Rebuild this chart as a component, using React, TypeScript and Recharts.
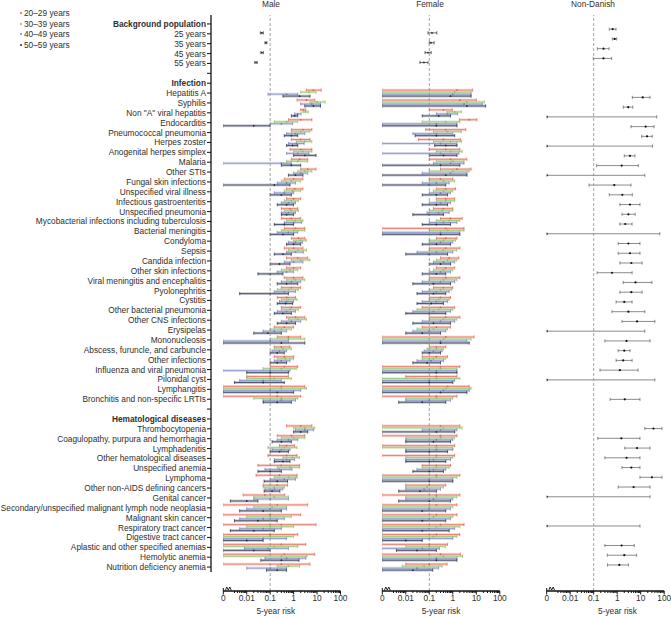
import React from 'react';
import { ComposedChart, Bar, XAxis, YAxis, ReferenceLine, Legend } from 'recharts';

const FONT = '"Liberation Sans", Arial, Helvetica, sans-serif';
const TEXT = '#2e2e2e';
const AXIS = '#111';

// ---------- categories ----------
const panelTitles = ['Male', 'Female', 'Non-Danish'];
const sectionTitles = ['Background population', 'Infection', 'Hematological diseases'];
const ageGroups = ['20–29 years', '30–39 years', '40–49 years', '50–59 years'];
const ageColors = ['#e8604c', '#86c25c', '#7383bd', '#1f2b48'];
const backgroundLabels = ['25 years', '35 years', '45 years', '55 years'];
const infectionLabels = [
  'Hepatitis A', 'Syphilis', 'Non "A" viral hepatitis', 'Endocarditis', 'Pneumococcal pneumonia',
  'Herpes zoster', 'Anogenital herpes simplex', 'Malaria', 'Other STIs', 'Fungal skin infections',
  'Unspecified viral illness', 'Infectious gastroenteritis', 'Unspecified pneumonia',
  'Mycobacterial infections including tuberculosis', 'Bacterial meningitis', 'Condyloma', 'Sepsis',
  'Candida infection', 'Other skin infections', 'Viral meningitis and encephalitis', 'Pyolonephritis',
  'Cystitis', 'Other bacterial pneumonia', 'Other CNS infections', 'Erysipelas', 'Mononucleosis',
  'Abscess, furuncle, and carbuncle', 'Other infections', 'Influenza and viral pneumonia',
  'Pilonidal cyst', 'Lymphangitis', 'Bronchitis and non-specific LRTIs',
];
const hematologicalLabels = [
  'Thrombocytopenia', 'Coagulopathy, purpura and hemorrhagia', 'Lymphadenitis',
  'Other hematological diseases', 'Unspecified anemia', 'Lymphoma', 'Other non-AIDS defining cancers',
  'Genital cancer', 'Secondary/unspecified malignant lymph node neoplasia', 'Malignant skin cancer',
  'Respiratory tract cancer', 'Digestive tract cancer', 'Aplastic and other specified anemias',
  'Hemolytic anemia', 'Nutrition deficiency anemia',
];

// ---------- x axis ticks ----------
const majorTicks = [0.001, 0.01, 0.1, 1, 10, 100];
const majorTickLabels = ['0', '0.01', '0.1', '1', '10', '100'];
const minorTicks = [
  0.003, 0.004, 0.005, 0.006, 0.007, 0.008, 0.009,
  0.02, 0.03, 0.04, 0.05, 0.06, 0.07, 0.08, 0.09,
  0.2, 0.3, 0.4, 0.5, 0.6, 0.7, 0.8, 0.9,
  2, 3, 4, 5, 6, 7, 8, 9,
  20, 30, 40, 50, 60, 70, 80, 90,
];
const xTicks = [...majorTicks, ...minorTicks];

// ---------- values: [lower CI, estimate, upper CI] (0.001 = "0") ----------
const maleBackground = [[0.038, 0.044, 0.051], [0.06, 0.066, 0.072], [0.04, 0.044, 0.051], [0.022, 0.025, 0.028]];
const femaleBackground = [[0.088, 0.13, 0.21], [0.1, 0.118, 0.16], [0.066, 0.088, 0.12], [0.04, 0.059, 0.088]];
const nonDanishBackground = [[0.46, 0.64, 0.89], [0.62, 0.78, 0.95], [0.142, 0.26, 0.45], [0.096, 0.26, 0.58]];

const male20 = [
  [3.5, 7, 15], [1.4, 3.5, 8], [2, 2.6, 3.3], [0.6, 2, 6], [0.8, 2.5, 6], [0.8, 2, 5], [0.7, 2, 6], [0.8, 1.8, 4],
  [2, 4, 9], [0.4, 1, 2.5], [0.5, 1.1, 2.5], [0.5, 1, 2], [0.3, 0.7, 1.5], [0.3, 0.8, 2], [0.4, 1.2, 3], [0.8, 1.6, 3],
  [0.4, 1, 2.5], [0.5, 1.5, 4], [0.5, 1, 2], [0.4, 1, 2.5], [0.3, 0.8, 2], [0.2, 0.5, 1.2], [0.3, 0.8, 2], [0.5, 1.2, 3],
  [0.15, 0.4, 1], [0.2, 0.6, 2], [0.15, 0.3, 0.7], [0.15, 0.4, 1], [0.1, 0.4, 1.5], [0.01, 0.1, 0.6], [0.001, 0.3, 3], [0.001, 0.2, 2],
  [0.5, 2, 6], [0.2, 0.8, 3], [0.25, 0.5, 1.1], [0.08, 0.5, 1.4], [0.03, 0.3, 1.8], [0.025, 0.25, 1.4], [0.05, 0.2, 0.55],
  [0.007, 0.06, 0.42], [0.001, 0.2, 4], [0.001, 0.1, 2], [0.001, 0.3, 9], [0.001, 0.1, 1.5], [0.001, 0.3, 3.3], [0.001, 0.4, 8], [0.001, 0.3, 5],
];
const male30 = [
  [2, 4.5, 9], [5, 10, 22], [2.5, 3.2, 4.2], [0.15, 0.5, 1.5], [0.8, 2, 5], [1.3, 3, 6], [1, 2.5, 6], [0.5, 1.5, 4],
  [1.5, 3, 6], [0.3, 0.8, 2], [0.4, 0.9, 2], [0.4, 0.8, 1.6], [0.4, 0.8, 1.6], [0.5, 1.2, 2.5], [0.3, 1, 3], [1, 2, 3.5],
  [0.6, 1.5, 3.5], [0.8, 2, 5], [0.3, 0.7, 1.5], [0.5, 1.2, 3], [0.2, 0.6, 1.6], [0.3, 0.6, 1.4], [0.3, 0.7, 1.6], [0.6, 1.5, 3.5],
  [0.1, 0.3, 0.8], [0.1, 0.6, 3], [0.15, 0.35, 0.8], [0.2, 0.45, 1], [0.05, 0.3, 1.3], [0.01, 0.15, 0.8], [0.001, 0.3, 3.5], [0.02, 0.3, 1.5],
  [1, 3, 8], [0.3, 1, 3], [0.08, 0.4, 1.4], [0.35, 0.9, 1.8], [0.2, 0.7, 1.8], [0.15, 0.6, 1.4], [0.05, 0.15, 0.4],
  [0.02, 0.15, 0.6], [0.02, 0.12, 0.5], [0.01, 0.1, 0.8], [0.01, 0.1, 1], [0.001, 0.1, 1], [0.001, 0.15, 1.5], [0.001, 0.3, 3.7], [0.2, 0.6, 1.8],
];
const male40 = [
  [0.08, 0.5, 1.5], [2, 6, 14], [1.1, 1.5, 2.1], [0.1, 0.3, 0.9], [0.5, 1.2, 3], [0.6, 1.3, 2.8], [0.5, 1.5, 4.5], [0.001, 0.3, 0.8],
  [1, 2, 4], [0.2, 0.5, 1.2], [0.15, 0.4, 1], [0.3, 0.6, 1.2], [0.3, 0.6, 1.2], [0.4, 1, 2.2], [0.2, 0.6, 1.5], [0.6, 1.2, 2.4],
  [0.5, 1.2, 2.6], [0.4, 1, 2.5], [0.2, 0.5, 1], [0.3, 0.8, 2], [0.15, 0.4, 1.2], [0.25, 0.5, 1], [0.2, 0.5, 1.2], [0.3, 0.8, 2],
  [0.05, 0.15, 0.5], [0.001, 0.1, 0.6], [0.12, 0.25, 0.5], [0.15, 0.3, 0.7], [0.001, 0.1, 0.7], [0.005, 0.05, 0.3], [0.001, 0.1, 2], [0.05, 0.3, 1.2],
  [1.2, 3, 7], [0.2, 0.6, 1.5], [0.12, 0.3, 0.7], [0.15, 0.5, 1.1], [0.06, 0.25, 0.85], [0.1, 0.4, 1.2], [0.06, 0.15, 0.35],
  [0.02, 0.1, 0.6], [0.01, 0.1, 0.5], [0.005, 0.05, 0.4], [0.005, 0.05, 0.3], [0.001, 0.05, 0.5], [0.008, 0.08, 0.6], [0.06, 0.5, 3.3], [0.01, 0.1, 0.5],
];
const male50 = [
  [0.35, 1.8, 5], [3, 7, 14], [0.8, 1.1, 1.5], [0.001, 0.02, 0.1], [0.4, 0.8, 1.5], [0.5, 0.9, 1.5], [1, 3, 9], [0.3, 0.8, 2],
  [0.6, 1.2, 2.5], [0.001, 0.15, 0.7], [0.1, 0.3, 0.8], [0.2, 0.5, 1], [0.3, 0.5, 1], [0.15, 0.4, 1], [0.1, 0.35, 1], [0.5, 1, 2],
  [0.15, 0.35, 0.8], [0.1, 0.25, 0.7], [0.03, 0.1, 0.35], [0.2, 0.5, 1.5], [0.005, 0.1, 0.6], [0.2, 0.45, 0.9], [0.15, 0.35, 0.8], [0.2, 0.5, 1.2],
  [0.02, 0.08, 0.3], [0.001, 0.3, 3], [0.1, 0.2, 0.4], [0.1, 0.2, 0.5], [0.01, 0.1, 0.6], [0.003, 0.05, 0.4], [0.001, 0.2, 1], [0.05, 0.2, 0.8],
  [1, 2, 4], [0.12, 0.3, 0.8], [0.1, 0.25, 0.6], [0.15, 0.35, 0.7], [0.03, 0.1, 0.3], [0.055, 0.2, 0.55], [0.055, 0.12, 0.26],
  [0.002, 0.01, 0.03], [0.005, 0.05, 0.3], [0.003, 0.03, 0.2], [0.002, 0.02, 0.15], [0.001, 0.01, 0.05], [0.001, 0.02, 0.1], [0.04, 0.3, 1.7], [0.07, 0.2, 0.5],
];

const female20 = [
  [0.001, 1.5, 7], [0.001, 2, 10], [0.1, 0.4, 0.95], [1.9, 5, 10.6], [0.07, 0.5, 3.6], [0.035, 0.4, 2.1], [0.1, 0.5, 2], [0.1, 0.8, 4],
  [0.3, 1.5, 6], [0.1, 0.3, 1], [0.2, 0.5, 1.3], [0.2, 0.5, 1.2], [0.15, 0.4, 1], [0.3, 0.8, 2.5], [0.001, 0.5, 3], [0.2, 0.5, 1.5],
  [0.1, 0.5, 2], [0.3, 0.7, 1.8], [0.2, 0.5, 1.2], [0.1, 0.5, 2], [0.15, 0.4, 1], [0.1, 0.3, 0.8], [0.05, 0.3, 1.2], [0.1, 0.5, 2],
  [0.05, 0.2, 0.8], [0.001, 0.5, 8], [0.1, 0.2, 0.5], [0.05, 0.2, 0.6], [0.001, 0.3, 2], [0.01, 0.2, 1.5], [0.001, 0.6, 5], [0.001, 0.2, 1.5],
  [0.001, 0.3, 2], [0.001, 0.3, 1.5], [0.001, 0.2, 1.2], [0.001, 0.2, 1.2], [0.05, 0.2, 0.8], [0.001, 0.2, 2], [0.01, 0.1, 0.5],
  [0.001, 0.2, 2], [0.001, 0.2, 1.5], [0.001, 0.2, 1.5], [0.001, 0.3, 3], [0.001, 0.2, 2], [0.001, 0.1, 0.6], [0.001, 0.3, 2.1], [0.01, 0.1, 0.57],
];
const female30 = [
  [0.001, 1.2, 6], [0.001, 4, 22], [0.56, 1.2, 2.3], [0.05, 0.5, 2], [0.15, 0.6, 2.3], [0.15, 0.8, 2.4], [0.2, 0.8, 2.5], [0.2, 1, 3],
  [0.1, 1, 5], [0.1, 0.4, 1.2], [0.15, 0.4, 1], [0.2, 0.5, 1.2], [0.1, 0.35, 1], [0.2, 0.7, 2], [0.1, 0.6, 3], [0.1, 0.4, 1.3],
  [0.1, 0.4, 1.5], [0.2, 0.6, 1.5], [0.15, 0.4, 1], [0.1, 0.4, 1.5], [0.1, 0.3, 0.9], [0.1, 0.25, 0.7], [0.03, 0.25, 1], [0.1, 0.4, 1.5],
  [0.03, 0.15, 0.6], [0.001, 0.4, 6], [0.08, 0.2, 0.4], [0.05, 0.15, 0.5], [0.001, 0.3, 1.5], [0.001, 0.2, 2], [0.001, 0.5, 6], [0.01, 0.2, 1],
  [0.001, 0.4, 2.5], [0.01, 0.3, 1.2], [0.001, 0.2, 1], [0.01, 0.2, 1], [0.05, 0.2, 0.7], [0.001, 0.2, 1.5], [0.01, 0.08, 0.4],
  [0.01, 0.2, 1.5], [0.001, 0.1, 1], [0.001, 0.15, 1], [0.001, 0.2, 2], [0.001, 0.15, 1.5], [0.01, 0.1, 0.5], [0.001, 0.4, 2.6], [0.007, 0.06, 0.35],
];
const female40 = [
  [0.001, 1, 6], [0.001, 3, 18], [0.2, 0.6, 1.6], [0.001, 0.2, 1.5], [0.02, 0.2, 1], [0.001, 0.3, 1.5], [0.001, 0.3, 1.8], [0.15, 0.8, 3],
  [0.05, 0.8, 4], [0.05, 0.2, 0.7], [0.1, 0.3, 0.8], [0.1, 0.3, 0.8], [0.08, 0.25, 0.7], [0.1, 0.4, 1.5], [0.001, 0.3, 2], [0.1, 0.3, 1],
  [0.03, 0.2, 1], [0.15, 0.4, 1.2], [0.1, 0.3, 0.8], [0.05, 0.3, 1.2], [0.05, 0.2, 0.7], [0.05, 0.2, 0.6], [0.02, 0.15, 0.8], [0.05, 0.3, 1.2],
  [0.02, 0.1, 0.5], [0.001, 0.3, 4], [0.06, 0.15, 0.35], [0.03, 0.12, 0.4], [0.001, 0.2, 1.5], [0.001, 0.1, 1.2], [0.001, 0.4, 5], [0.01, 0.1, 0.8],
  [0.05, 0.3, 1.5], [0.01, 0.2, 1], [0.01, 0.2, 1], [0.01, 0.15, 0.8], [0.03, 0.15, 0.5], [0.001, 0.1, 1], [0.01, 0.06, 0.3],
  [0.01, 0.15, 1], [0.001, 0.1, 0.8], [0.001, 0.1, 0.8], [0.001, 0.1, 1.2], [0.001, 0.1, 1], [0.001, 0.05, 0.27], [0.001, 0.2, 1.5], [0.001, 0.03, 0.25],
];
const female50 = [
  [0.001, 0.8, 6], [0.001, 4, 25], [0.05, 0.25, 0.8], [0.001, 0.2, 1.5], [0.025, 0.2, 1.2], [0.17, 0.5, 1.5], [0.1, 0.4, 1.5], [0.001, 0.3, 2],
  [0.001, 0.5, 4], [0.001, 0.1, 0.5], [0.05, 0.2, 0.6], [0.05, 0.2, 0.6], [0.02, 0.1, 0.4], [0.05, 0.2, 0.8], [0.001, 0.3, 2], [0.05, 0.2, 0.8],
  [0.01, 0.1, 0.6], [0.1, 0.3, 0.8], [0.05, 0.2, 0.5], [0.02, 0.15, 0.8], [0.03, 0.15, 0.5], [0.03, 0.12, 0.4], [0.01, 0.1, 0.5], [0.02, 0.15, 0.8],
  [0.01, 0.05, 0.3], [0.001, 0.3, 5], [0.05, 0.1, 0.3], [0.02, 0.08, 0.3], [0.001, 0.2, 1.5], [0.001, 0.1, 1], [0.001, 0.3, 4], [0.005, 0.05, 0.5],
  [0.001, 0.2, 1.2], [0.01, 0.15, 0.8], [0.01, 0.1, 0.6], [0.01, 0.1, 0.5], [0.02, 0.1, 0.4], [0.001, 0.1, 1], [0.005, 0.04, 0.2],
  [0.005, 0.1, 0.8], [0.001, 0.05, 0.5], [0.001, 0.05, 0.5], [0.001, 0.05, 0.7], [0.001, 0.01, 0.05], [0.004, 0.03, 0.2], [0.001, 0.2, 1.5], [0.001, 0.02, 0.14],
];

const nonDanish = [
  [4.4, 12.2, 24.9], [1.82, 2.97, 4.6], [0.001, 0.001, 48], [3.87, 16.3, 37], [11, 18.6, 31], [0.001, 0.001, 32], [2, 3.5, 5.7], [0.134, 1.56, 7.9],
  [0.001, 0.001, 15], [0.063, 0.75, 3.87], [0.46, 1.65, 4.4], [1.3, 3.5, 9.3], [1.6, 3, 5.8], [1.3, 2.2, 4.3], [0.001, 0.001, 65], [1.1, 3, 9.3],
  [1.1, 3.5, 9.3], [1.3, 4, 11.5], [0.14, 0.6, 4.3], [1.8, 6, 30], [1.3, 4, 11.5], [0.9, 2, 4.3], [0.6, 3, 15], [1.6, 7, 40],
  [0.001, 0.001, 15], [0.3, 2.5, 25], [1.1, 2, 3.5], [0.9, 1.8, 4.3], [0.185, 1.3, 7.7], [0.001, 0.001, 40], null, [0.5, 2.1, 9.3],
  [15, 35, 80], [0.15, 1.5, 9.3], [2.1, 7, 25], [0.3, 2.5, 9.3], [1.6, 4, 9.3], [9.3, 30, 80], [1.1, 5, 25],
  [0.001, 0.001, 25], null, null, [0.001, 0.001, 9.3], null, [0.3, 1.55, 5.3], [0.38, 2, 6.7], [0.39, 1.23, 3],
];

// ---------- table built from the arrays ----------
const maleSeries = [male20, male30, male40, male50];
const femaleSeries = [female20, female30, female40, female50];
const NONE = [null, null, null, null];
const rows: any[] = [];
const push = (label: string, bold: boolean, bg: boolean, m: any[], f: any[], n: any) =>
  rows.push({ id: 'r' + rows.length, label, bold, bg, m, f, n });

push(sectionTitles[0], true, false, NONE, NONE, nonDanishBackground[0]);
backgroundLabels.forEach((l, i) =>
  push(l, false, true, [null, maleBackground[i], null, null], [null, femaleBackground[i], null, null], nonDanishBackground[i + 1] || null));
push('', false, false, NONE, NONE, null);
push(sectionTitles[1], true, false, NONE, NONE, null);
infectionLabels.forEach((l, i) =>
  push(l, false, false, maleSeries.map((s) => s[i]), femaleSeries.map((s) => s[i]), nonDanish[i]));
push('', false, false, NONE, NONE, null);
push(sectionTitles[2], true, false, NONE, NONE, null);
hematologicalLabels.forEach((l, j) => {
  const i = j + infectionLabels.length;
  push(l, false, false, maleSeries.map((s) => s[i]), femaleSeries.map((s) => s[i]), nonDanish[i]);
});
const rowById: Record<string, any> = {};
rows.forEach((r) => { rowById[r.id] = r; });

// ---------- renderers ----------
const ok = (...v: number[]) => v.every((n) => Number.isFinite(n));

const makeAgeShape = (panel: string, k: number) => (props: any) => {
  const { x, y, width, height, payload } = props;
  const t = payload ? payload[panel][k] : null;
  if (!t || !ok(x, y, width, height)) return <g />;
  const [lo, est, hi] = t;
  const bg = payload.bg;
  const color = bg ? '#2a2a2a' : ageColors[k];
  const span = Math.log(hi / lo);
  const xe = span > 0 ? x + (width * Math.log(est / lo)) / span : x;
  const cy = y + height / 2;
  return (
    <g>
      {!bg && <rect x={x} y={y - 0.4} width={Math.max(width, 0)} height={height + 0.8} fill={ageColors[k]} fillOpacity={0.26} />}
      <line x1={x} x2={x + width} y1={cy} y2={cy} stroke={color} strokeWidth={0.7} />
      <line x1={x} x2={x} y1={cy - 1.6} y2={cy + 1.6} stroke={color} strokeWidth={0.7} />
      <line x1={x + width} x2={x + width} y1={cy - 1.6} y2={cy + 1.6} stroke={color} strokeWidth={0.7} />
      <circle cx={xe} cy={cy} r={0.9} fill={color} />
    </g>
  );
};
const maleShapes = [0, 1, 2, 3].map((k) => makeAgeShape('m', k));
const femaleShapes = [0, 1, 2, 3].map((k) => makeAgeShape('f', k));

const nonDanishShape = (props: any) => {
  const { x, y, width, height, payload } = props;
  const t = payload ? payload.n : null;
  if (!t || !ok(x, y, width, height)) return <g />;
  const [lo, est, hi] = t;
  const span = Math.log(hi / lo);
  const xe = span > 0 ? x + (width * Math.log(est / lo)) / span : x;
  const cy = y + height / 2;
  return (
    <g>
      <line x1={x} x2={x + width} y1={cy} y2={cy} stroke="#5a5a5a" strokeWidth={0.7} />
      <line x1={x} x2={x} y1={cy - 1.6} y2={cy + 1.6} stroke="#5a5a5a" strokeWidth={0.7} />
      <line x1={x + width} x2={x + width} y1={cy - 1.6} y2={cy + 1.6} stroke="#5a5a5a" strokeWidth={0.7} />
      <circle cx={xe} cy={cy} r={1.1} fill="#111" />
    </g>
  );
};

const YTick = (props: any) => {
  const { x, y, payload } = props;
  const row = rowById[payload.value];
  if (!row || !row.label) return <g />;
  return (
    <text x={x} y={y} textAnchor="end" dominantBaseline="central" fontSize={8.3} fontFamily={FONT}
      fontWeight={row.bold ? 700 : 400} fill={TEXT}>{row.label}</text>
  );
};

const XTick = (props: any) => {
  const { x, y, payload } = props;
  const idx = majorTicks.indexOf(payload.value);
  const major = idx >= 0;
  return (
    <g>
      <line x1={x} x2={x} y1={idx === 0 ? y - 3 : y} y2={y + (major ? 3.5 : 2)} stroke={AXIS} strokeWidth={1} />
      {idx === 0 && (
        <polyline points={`${x + 2},${y - 0.5} ${x + 3.5},${y - 4} ${x + 5},${y - 1} ${x + 6.5},${y - 4} ${x + 8},${y - 0.5}`}
          fill="none" stroke={AXIS} strokeWidth={0.9} />
      )}
      {major && (
        <text x={x} y={y + 10} textAnchor="middle" fontSize={8.3} fontFamily={FONT} fill={TEXT}>{majorTickLabels[idx]}</text>
      )}
    </g>
  );
};

const renderLegend = (props: any) => (
  <div style={{ fontFamily: FONT, fontSize: 8.3, color: TEXT, lineHeight: '10.6px' }}>
    {(props.payload || []).map((p: any) => (
      <div key={p.value} style={{ display: 'flex', alignItems: 'center', whiteSpace: 'nowrap' }}>
        <span style={{ display: 'inline-block', width: 2, height: 2, borderRadius: 1, background: p.color, marginRight: 2 }} />
        {p.value}
      </div>
    ))}
  </div>
);

const makeXLabel = (shift: number) => (props: any) => {
  const vb = props.viewBox || {};
  return (
    <text x={vb.x + vb.width / 2 + shift} y={vb.y + vb.height} textAnchor="middle" fontSize={8.3}
      fontFamily={FONT} fill={TEXT}>5-year risk</text>
  );
};

const commonX = {
  type: 'number' as const, scale: 'log' as const, domain: [0.001, 100], allowDataOverflow: true,
  ticks: xTicks, interval: 0, tick: <XTick />, tickLine: false, tickSize: 0, tickMargin: 0, height: 23,
};

const refLine = <ReferenceLine x={0.1} stroke="#8a8a8a" strokeDasharray="3 2" strokeWidth={0.8} ifOverflow="visible" />;

const titleStyle = (cx: number): React.CSSProperties => ({
  position: 'absolute', left: cx - 50, top: -1, width: 100, textAlign: 'center',
  fontFamily: FONT, fontSize: 8.3, color: TEXT, lineHeight: '10px',
});

export default function App() {
  return (
    <div style={{ position: 'absolute', left: 0, top: 0, width: 671, height: 617, background: '#fff', overflow: 'hidden' }}>
      <div style={{ position: 'absolute', left: 0, top: 0 }}>
        <ComposedChart width={350} height={617} data={rows} layout="vertical"
          margin={{ top: 15, right: 9.5, bottom: 3, left: 0 }} barSize={2} barGap={0}>
          <XAxis {...commonX} padding={{ left: 12.3, right: 0 }}
            axisLine={{ stroke: AXIS, strokeWidth: 1.3, strokeDasharray: '0 12.3 300' }}
            label={{ content: makeXLabel(0) }} />
          <YAxis type="category" dataKey="id" width={211} interval={0} tick={<YTick />} tickSize={4} tickMargin={1}
            tickLine={{ stroke: AXIS, strokeWidth: 1 }} axisLine={{ stroke: AXIS, strokeWidth: 1.3, strokeDasharray: '557 300' }}
            padding={{ top: 4, bottom: 19 }} />
          {refLine}
          {ageGroups.map((g, k) => (
            <Bar key={g} name={g} dataKey={(r: any) => (r.m[k] ? [r.m[k][0], r.m[k][2]] : null)}
              fill={ageColors[k]} shape={maleShapes[k]} isAnimationActive={false} />
          ))}
          <Legend layout="vertical" align="center" verticalAlign="middle" content={renderLegend}
            wrapperStyle={{ left: 20, top: 8, width: 'auto', height: 'auto' }} />
        </ComposedChart>
      </div>
      <div style={{ position: 'absolute', left: 360, top: 0 }}>
        <ComposedChart width={150} height={617} data={rows} layout="vertical"
          margin={{ top: 15, right: 10.2, bottom: 3, left: 22.3 }} barSize={2} barGap={0}>
          <XAxis {...commonX} padding={{ left: 0, right: 0 }} axisLine={{ stroke: AXIS, strokeWidth: 1.3 }}
            label={{ content: makeXLabel(0) }} />
          <YAxis type="category" dataKey="id" hide padding={{ top: 4, bottom: 19 }} />
          {refLine}
          {ageGroups.map((g, k) => (
            <Bar key={g} name={g} dataKey={(r: any) => (r.f[k] ? [r.f[k][0], r.f[k][2]] : null)}
              fill={ageColors[k]} shape={femaleShapes[k]} isAnimationActive={false} />
          ))}
        </ComposedChart>
      </div>
      <div style={{ position: 'absolute', left: 530, top: 0 }}>
        <ComposedChart width={141} height={617} data={rows} layout="vertical"
          margin={{ top: 15, right: 6.8, bottom: 3, left: 16.7 }} barSize={2}>
          <XAxis {...commonX} padding={{ left: 0, right: 0 }} axisLine={{ stroke: AXIS, strokeWidth: 1.3 }}
            label={{ content: makeXLabel(12) }} />
          <YAxis type="category" dataKey="id" hide padding={{ top: 9.2, bottom: 21.3 }} />
          {refLine}
          <Bar name="Non-Danish" dataKey={(r: any) => (r.n ? [r.n[0], r.n[2]] : null)} fill="#111"
            shape={nonDanishShape} isAnimationActive={false} />
        </ComposedChart>
      </div>
      <div style={titleStyle(271)}>{panelTitles[0]}</div>
      <div style={titleStyle(430)}>{panelTitles[1]}</div>
      <div style={titleStyle(593)}>{panelTitles[2]}</div>
    </div>
  );
}
